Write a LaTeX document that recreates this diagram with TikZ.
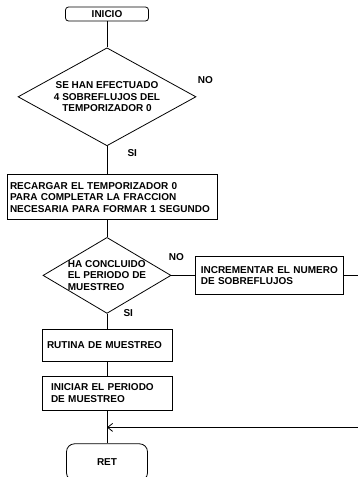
\documentclass[tikz,border=0pt]{standalone}
\usepackage{fontspec}
\setmainfont{Liberation Sans}
\usetikzlibrary{positioning,shapes.geometric,arrows.meta}

\begin{document}
\begin{tikzpicture}[
	every node/.style={font=\bfseries\fontsize{10}{11.5}\selectfont},
	box/.style={draw, thick, align=left, inner xsep=4pt, inner ysep=2pt},
	term/.style={draw, thick, rounded corners=3pt, align=center},
	decision/.style={draw, thick, diamond, inner sep=0pt, align=center}
	]
		\useasboundingbox (0pt,0pt) rectangle (358pt,-477pt);
		
		%start
		\node (ini) [term, minimum width=83pt, minimum height=14pt] at (107pt,-14pt) {INICIO};
		
		%first test
		\node (d1) [decision, aspect=1.82, minimum width=178pt, minimum height=98pt, below = 26pt of ini] {SE HAN EFECTUADO\\4 SOBREFLUJOS DEL\\TEMPORIZADOR 0};
		\node (no1) [above right = 10pt and -2pt of d1.east] {NO};
		\node (si1) [below right = 0pt and 17pt of d1.south] {SI};
		
		%reload timer
		\node (rec) [box, inner xsep=3pt, text width=204pt, minimum height=45pt, below = 28pt of d1, xshift=5pt] {RECARGAR EL TEMPORIZADOR 0\\PARA COMPLETAR LA FRACCION\\NECESARIA PARA FORMAR 1 SEGUNDO};
		
		%second test
		\node (d2) [decision, aspect=1.68, inner xsep=-3pt, minimum width=128pt, minimum height=76pt, below = 17pt of rec, xshift=-5pt, align=left] {HA CONCLUIDO\\EL PERIODO DE\\MUESTREO};
		\node (no2) [above right = 11pt and -6pt of d2.east] {NO};
		\node (si2) [below right = -8pt and 13pt of d2.south] {SI};
		\node (inc) [box, inner xsep=5pt, text width=138pt, minimum height=38pt, right = 24pt of d2] {INCREMENTAR EL NUMERO\\DE SOBREFLUJOS};
		
		%sampling
		\node (rut) [box, inner xsep=5pt, text width=120pt, minimum height=32pt, below = 15pt of d2] {RUTINA DE MUESTREO};
		\node (icp) [box, inner xsep=9pt, text width=112pt, minimum height=34pt, below = 14pt of rut] {INICIAR EL PERIODO\\DE MUESTREO};
		
		%end
		\coordinate [below = 17pt of icp] (jn);
		\node (ret) [term, rounded corners=8pt, minimum width=81pt, minimum height=37pt, below = 33pt of icp] {RET};
		
		\draw[thick] (ini) -- (d1);
		\draw[thick] (d1.south) -- (d1.south |- rec.north);
		\draw[thick] (rec.south -| d2.north) -- (d2);
		\draw[thick] (d2) -- (inc);
		\draw[thick] (d2) -- (rut);
		\draw[thick] (rut) -- (icp);
		\draw[thick] (icp) -- (ret);
		
		%loop back
		\draw[-{Straight Barb[length=5pt,width=8pt]}, thick] (inc.east) -- ++(22pt,0) |- (jn);
\end{tikzpicture}
\end{document}
